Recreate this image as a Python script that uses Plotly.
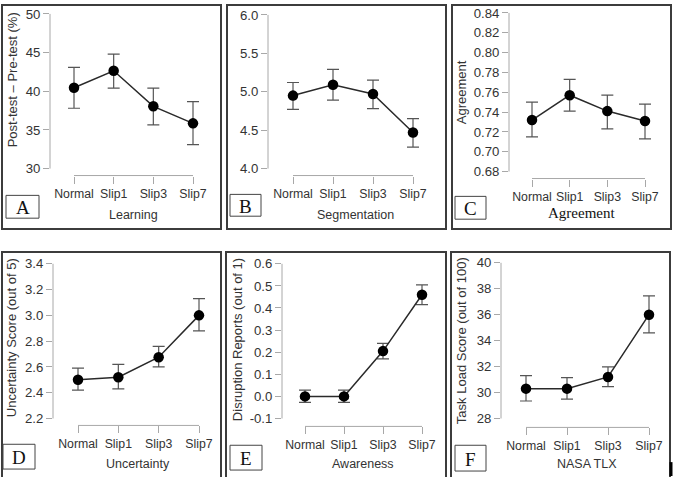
import plotly.graph_objects as go

W, H = 675, 477

categories = ["Normal", "Slip1", "Slip3", "Slip7"]

learning_mean = [40.45, 42.65, 38.05, 35.85]
learning_hi = [43.1, 44.8, 40.4, 38.65]
learning_lo = [37.8, 40.4, 35.65, 33.1]

segmentation_mean = [4.95, 5.09, 4.97, 4.47]
segmentation_hi = [5.12, 5.29, 5.15, 4.65]
segmentation_lo = [4.77, 4.89, 4.78, 4.28]

agreement_mean = [0.732, 0.757, 0.741, 0.731]
agreement_hi = [0.750, 0.773, 0.757, 0.748]
agreement_lo = [0.715, 0.741, 0.723, 0.713]

uncertainty_mean = [2.50, 2.52, 2.675, 3.0]
uncertainty_hi = [2.59, 2.62, 2.76, 3.13]
uncertainty_lo = [2.42, 2.43, 2.60, 2.88]

awareness_mean = [0.0, 0.0, 0.205, 0.46]
awareness_hi = [0.028, 0.028, 0.24, 0.505]
awareness_lo = [-0.027, -0.027, 0.17, 0.415]

tlx_mean = [30.3, 30.3, 31.2, 36.0]
tlx_hi = [31.3, 31.15, 31.98, 37.45]
tlx_lo = [29.35, 29.5, 30.45, 34.6]

learning_ticks = [30, 35, 40, 45, 50]
segmentation_ticks = [4.0, 4.5, 5.0, 5.5, 6.0]
agreement_ticks = [0.68, 0.70, 0.72, 0.74, 0.76, 0.78, 0.80, 0.82, 0.84]
uncertainty_ticks = [2.2, 2.4, 2.6, 2.8, 3.0, 3.2, 3.4]
awareness_ticks = [-0.1, 0.0, 0.1, 0.2, 0.3, 0.4, 0.5, 0.6]
tlx_ticks = [28, 30, 32, 34, 36, 38, 40]

TXT = "#333333"
AX = "#a8a8a8"
SANS = "Liberation Sans, Arial, sans-serif"
SERIF = "Liberation Serif, Times New Roman, serif"

panels = [
    dict(mean=learning_mean, hi=learning_hi, lo=learning_lo, ticks=learning_ticks,
         fmt=lambda v: f"{v:.0f}", yax=50, xn=74, x7=193, xay=174, ytp=11, ybp=167,
         ytitle="Post-test \u2013 Pre-test (%)", ytx=12, yty=78, xtitle="Learning", xtitle_x=133,
         xtitle_y=214, box=(2, 2, 221, 228), lab="A", labbox=(6, 194, 39, 217)),
    dict(mean=segmentation_mean, hi=segmentation_hi, lo=segmentation_lo, ticks=segmentation_ticks,
         fmt=lambda v: f"{v:.1f}", yax=268, xn=293, x7=413, xay=174, ytp=12, ybp=167,
         ytitle=None, xtitle="Segmentation", xtitle_x=355,
         xtitle_y=214, box=(227, 2, 446, 228), lab="B", labbox=(230, 193, 261, 215)),
    dict(mean=agreement_mean, hi=agreement_hi, lo=agreement_lo, ticks=agreement_ticks,
         fmt=lambda v: f"{v:.2f}", yax=509, xn=532, x7=645, xay=177, ytp=10, ybp=170,
         ytitle="Agreement", ytx=461, yty=90, xtitle=None, xtitle_x=581,
         xtitle_y=212, box=(452, 2, 671, 228), lab="C", labbox=(455, 195, 486, 218)),
    dict(mean=uncertainty_mean, hi=uncertainty_hi, lo=uncertainty_lo, ticks=uncertainty_ticks,
         fmt=lambda v: f"{v:.1f}", yax=53, xn=78, x7=199, xay=426, ytp=263, ybp=419,
         ytitle="Uncertainty Score (out of 5)", ytx=11, yty=338, xtitle="Uncertainty", xtitle_x=138,
         xtitle_y=465, box=(2, 251, 221, 480), lab="D", labbox=(3, 445, 35, 470)),
    dict(mean=awareness_mean, hi=awareness_hi, lo=awareness_lo, ticks=awareness_ticks,
         fmt=lambda v: f"{v:.1f}", yax=282, xn=305, x7=422, xay=427, ytp=263, ybp=419,
         ytitle="Disruption Reports (out of 1)", ytx=237, yty=340, xtitle="Awareness", xtitle_x=363,
         xtitle_y=465, box=(226, 251, 446, 480), lab="E", labbox=(230, 446, 262, 471)),
    dict(mean=tlx_mean, hi=tlx_hi, lo=tlx_lo, ticks=tlx_ticks,
         fmt=lambda v: f"{v:.0f}", yax=501, xn=526, x7=649, xay=428, ytp=262, ybp=419,
         ytitle="Task Load Score (out of 100)", ytx=461, yty=341, xtitle="NASA TLX", xtitle_x=587,
         xtitle_y=465, box=(451, 251, 670, 480), lab="F", labbox=(455, 446, 486, 472)),
]


def px(x):
    return x / W


def py(y):
    return 1 - y / H


fig = go.Figure()
shapes = []
annotations = []
layout = {}

for i, p in enumerate(panels):
    n = i + 1
    xa = "xaxis" if n == 1 else f"xaxis{n}"
    ya = "yaxis" if n == 1 else f"yaxis{n}"
    xr = "x" if n == 1 else f"x{n}"
    yr = "y" if n == 1 else f"y{n}"

    ux = (p["x7"] - p["xn"]) / 3.0
    right_px = p["x7"] + 20
    xrange = [0 - (p["xn"] - p["yax"]) / ux, 3 + (right_px - p["x7"]) / ux]

    vb, vt = p["ticks"][0], p["ticks"][-1]
    uy = (p["ybp"] - p["ytp"]) / (vt - vb)
    top_px = p["ytp"] - 4
    yrange = [vb - (p["xay"] - p["ybp"]) / uy, vt + (p["ytp"] - top_px) / uy]

    layout[xa] = dict(
        domain=[px(p["yax"]), px(right_px)], range=xrange, anchor=yr,
        tickvals=[0, 1, 2, 3], ticktext=categories, ticks="outside", ticklen=7,
        tickcolor=AX, tickwidth=1, showgrid=False, zeroline=False, showline=False,
        tickfont=dict(family=SANS, size=12.3, color=TXT), fixedrange=True,
    )
    layout[ya] = dict(
        domain=[py(p["xay"]), py(top_px)], range=yrange, anchor=xr,
        tickvals=p["ticks"], ticktext=[p["fmt"](v) for v in p["ticks"]],
        ticks="outside", ticklen=6, tickcolor=AX, tickwidth=1,
        showgrid=False, zeroline=False, showline=False,
        tickfont=dict(family=SANS, size=13.2, color=TXT), fixedrange=True,
    )

    fig.add_trace(go.Scatter(
        x=[0, 1, 2, 3], y=p["mean"], xaxis=xr, yaxis=yr, mode="lines+markers",
        line=dict(color="#2a2a2a", width=1.5),
        marker=dict(color="black", size=10.5),
        error_y=dict(type="data", symmetric=False,
                     array=[h - m for h, m in zip(p["hi"], p["mean"])],
                     arrayminus=[m - l for m, l in zip(p["mean"], p["lo"])],
                     color="#555555", thickness=1.2, width=6),
        showlegend=False, hoverinfo="skip",
    ))

    # R-style axis lines spanning only the tick range
    shapes.append(dict(type="line", xref=f"{xr} domain", yref=yr, x0=0, x1=0,
                       y0=vb, y1=vt, line=dict(color=AX, width=1)))
    shapes.append(dict(type="line", xref=xr, yref=f"{yr} domain", x0=0, x1=3,
                       y0=0, y1=0, line=dict(color=AX, width=1)))

    # panel border
    x0, y0, x1, y1 = p["box"]
    shapes.append(dict(type="rect", xref="paper", yref="paper", x0=px(x0), x1=px(x1),
                       y0=py(y1), y1=py(y0), line=dict(color="#3c3c3c", width=2)))
    # label box
    lx0, ly0, lx1, ly1 = p["labbox"]
    shapes.append(dict(type="rect", xref="paper", yref="paper", x0=px(lx0), x1=px(lx1),
                       y0=py(ly1), y1=py(ly0), line=dict(color="#444444", width=1),
                       fillcolor="white"))
    annotations.append(dict(xref="paper", yref="paper", x=px((lx0 + lx1) / 2),
                            y=py((ly0 + ly1) / 2 + 1), text=p["lab"], showarrow=False,
                            xanchor="center", yanchor="middle",
                            font=dict(family=SERIF, size=19, color="#111111")))

    # y title
    if p["ytitle"]:
        annotations.append(dict(xref="paper", yref="paper", x=px(p["ytx"]),
                                y=py(p["yty"]),
                                text=p["ytitle"], textangle=-90, showarrow=False,
                                xanchor="center", yanchor="middle",
                                font=dict(family=SANS, size=13, color=TXT)))
    # x title
    if p["xtitle"]:
        annotations.append(dict(xref="paper", yref="paper", x=px(p["xtitle_x"]),
                                y=py(p["xtitle_y"]), text=p["xtitle"], showarrow=False,
                                xanchor="center", yanchor="middle",
                                font=dict(family=SANS, size=12.5, color=TXT)))
    else:
        annotations.append(dict(xref="paper", yref="paper", x=px(p["xtitle_x"]),
                                y=py(p["xtitle_y"]), text="Agreement", showarrow=False,
                                xanchor="center", yanchor="middle",
                                font=dict(family=SERIF, size=15, color="#111111")))

# small dark mark at bottom right
shapes.append(dict(type="line", xref="paper", yref="paper", x0=px(671), x1=px(671),
                   y0=py(477), y1=py(463), line=dict(color="black", width=3)))

fig.update_layout(
    width=W, height=H, margin=dict(l=0, r=0, t=0, b=0),
    paper_bgcolor="white", plot_bgcolor="white",
    shapes=shapes, annotations=annotations, showlegend=False, **layout,
)

fig.write_html("out.html")
